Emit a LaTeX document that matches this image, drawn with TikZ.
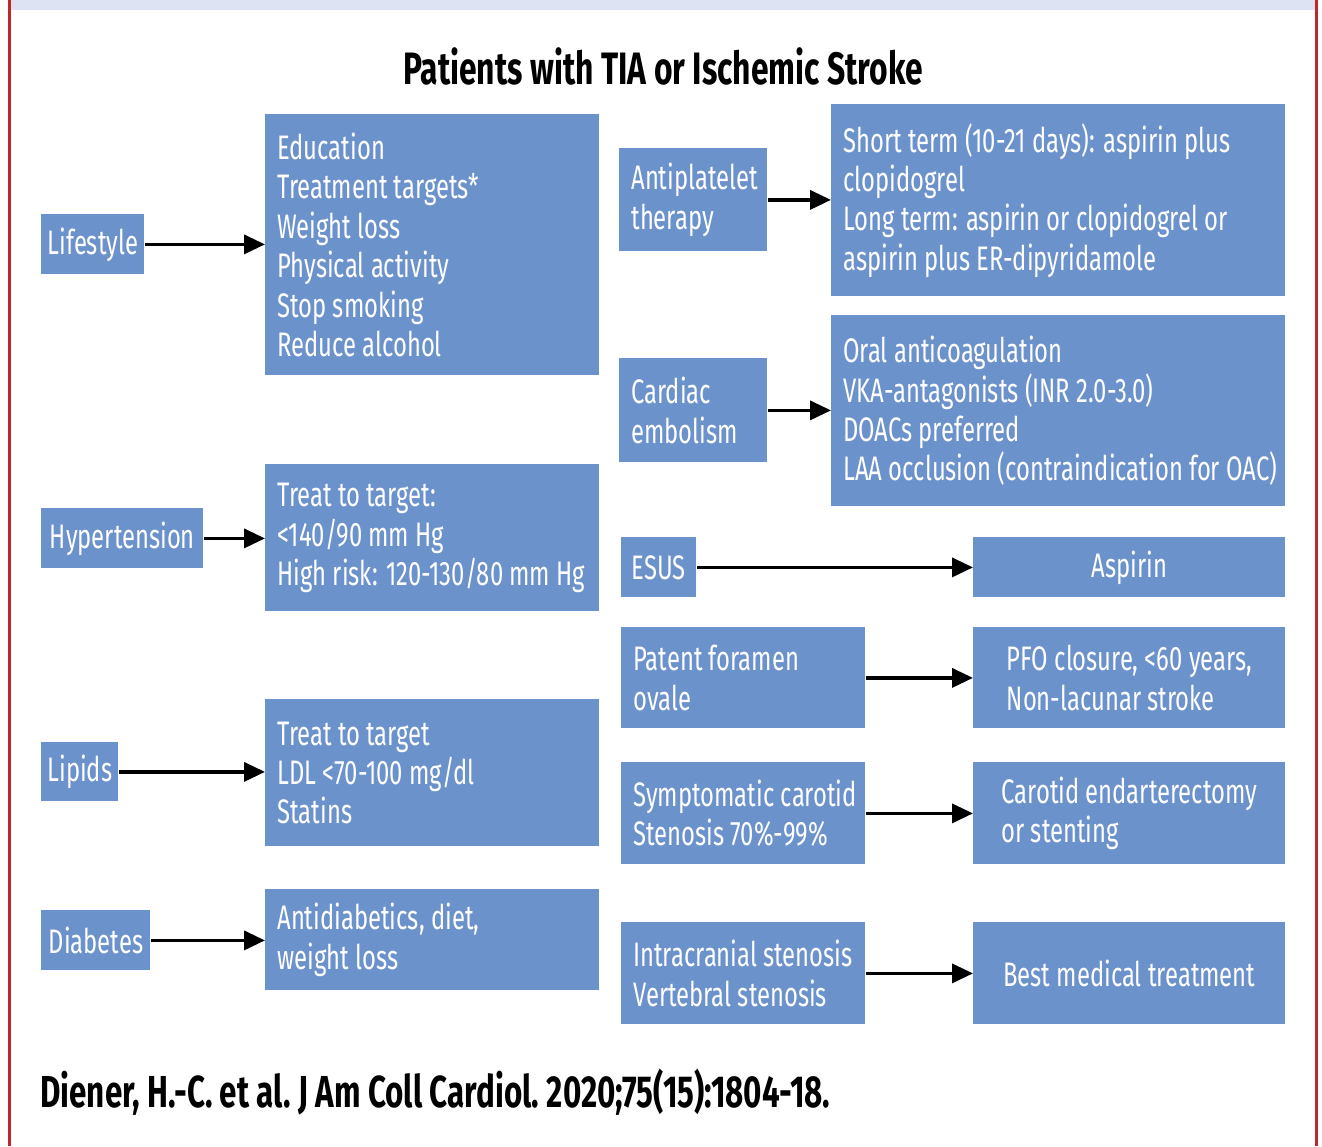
\documentclass[tikz,border=0pt]{standalone}
\usepackage{fontspec}
\setmainfont[FakeStretch=0.70]{Fira Sans}
\usetikzlibrary{arrows.meta}
\definecolor{boxblue}{RGB}{108,146,204}
\definecolor{bandblue}{RGB}{221,227,243}
\definecolor{framered}{RGB}{192,39,45}
\tikzset{
    blk/.style={fill=boxblue, text=white, anchor=north west, inner xsep=6pt, inner ysep=0pt, align=flush left, font=\fontsize{17}{19.7}\selectfont, execute at begin node={\rightskip=-20pt plus 1fil\relax}},
    tag/.style={blk, align=center, inner xsep=3pt},
    arr/.style={line width=1.8pt, -{Triangle[length=10.5pt,width=9.5pt]}},
}

\begin{document}
\begin{tikzpicture}[x=0.5pt,y=-0.5pt]
            \useasboundingbox (0,0) rectangle (1322,1146);
            \fill[bandblue] (10,0) rectangle (1315,10);
            \draw[framered,line width=1.5pt] (9,0) -- (9,1146);
            \draw[framered,line width=1.5pt] (1316,0) -- (1316,1146);
            \node[font=\bfseries\fontsize{22.7}{26}\selectfont] (title) at (663,66) {Patients with TIA or Ischemic Stroke};
            % left column
            \node[tag, minimum width=51.5pt, minimum height=30pt] (life) at (41,214) {Lifestyle};
            \node[blk, text width=155pt, minimum height=130.5pt] (edu) at (265,114) {Education\\Treatment targets*\\Weight loss\\Physical activity\\Stop smoking\\Reduce alcohol};
            \node[tag, minimum width=81pt, minimum height=30pt] (hyp) at (41,508) {Hypertension};
            \node[blk, text width=155pt, minimum height=73.5pt] (bp) at (265,464) {Treat to target:\\<140/90 mm Hg\\High risk: 120-130/80 mm Hg};
            \node[tag, minimum width=38.5pt, minimum height=29.5pt] (lip) at (41,742) {Lipids};
            \node[blk, text width=155pt, minimum height=73.5pt] (ldl) at (265,699) {Treat to target\\LDL <70-100 mg/dl\\Statins};
            \node[tag, minimum width=54.5pt, minimum height=30pt] (dia) at (41,910) {Diabetes};
            \node[blk, text width=155pt, minimum height=50.5pt] (antid) at (265,889) {Antidiabetics, diet,\\weight loss};
            % right column
            \node[blk, text width=62pt, minimum height=51.5pt] (apt) at (619,148) {Antiplatelet\\therapy};
            \node[blk, text width=215pt, minimum height=96pt] (dapt) at (831,104) {Short term (10-21 days): aspirin plus\\clopidogrel\\Long term: aspirin or clopidogrel or\\aspirin plus ER-dipyridamole};
            \node[blk, text width=62pt, minimum height=52pt] (card) at (619,358) {Cardiac\\embolism};
            \node[blk, text width=215pt, minimum height=95.5pt] (oac) at (831,315) {Oral anticoagulation\\VKA-antagonists (INR 2.0-3.0)\\DOACs preferred\\LAA occlusion (contraindication for OAC)};
            \node[tag, minimum width=37.5pt, minimum height=30pt] (esus) at (621,537) {ESUS};
            \node[tag, minimum width=156pt, minimum height=30pt] (asp) at (973,537) {Aspirin};
            \node[blk, text width=110pt, minimum height=50.5pt] (pfo) at (621,627) {Patent foramen\\ovale};
            \node[blk, align=left, minimum width=156pt, minimum height=50.5pt] (pfoc) at (973,627) {PFO closure, <60 years,\\Non-lacunar stroke};
            \node[blk, text width=110pt, minimum height=51pt] (carot) at (621,762) {Symptomatic carotid\\Stenosis 70\%-99\%};
            \node[blk, align=left, minimum width=156pt, minimum height=51pt] (cea) at (973,762) {Carotid endarterectomy\\or stenting};
            \node[blk, text width=110pt, minimum height=51pt] (icst) at (621,922) {Intracranial stenosis\\Vertebral stenosis};
            \node[blk, align=left, minimum width=156pt, minimum height=51pt] (bmt) at (973,922) {Best medical treatment};
            \node[anchor=west, inner xsep=0pt, font=\bfseries\fontsize{22.4}{26}\selectfont\frenchspacing] (cite) at (40,1092) {Diener, H.-C. et al. J Am Coll Cardiol. 2020;75(15):1804-18.};
            % arrows
            \draw[arr] (life) -- (life -| edu.west);
            \draw[arr] (hyp) -- (hyp -| bp.west);
            \draw[arr] (lip) -- (lip -| ldl.west);
            \draw[arr] (dia) -- (dia -| antid.west);
            \draw[arr] (apt) -- (apt -| dapt.west);
            \draw[arr] (card) -- (card -| oac.west);
            \draw[arr] (esus) -- (esus -| asp.west);
            \draw[arr] (pfo) -- (pfo -| pfoc.west);
            \draw[arr] (carot) -- (carot -| cea.west);
            \draw[arr] (icst) -- (icst -| bmt.west);
        \end{tikzpicture}
\end{document}
